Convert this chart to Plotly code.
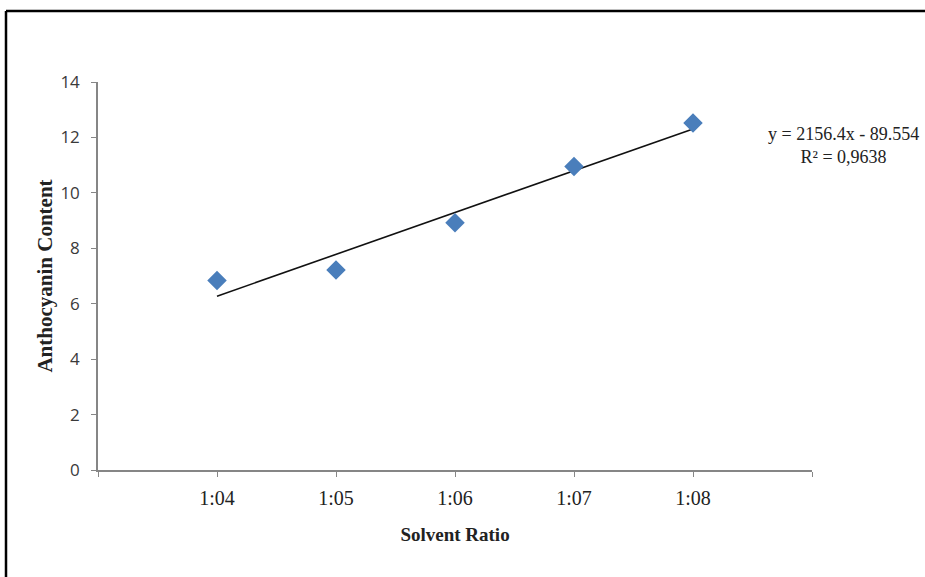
import numpy as np
import plotly.graph_objects as go

categories = ["1:04", "1:05", "1:06", "1:07", "1:08"]
anthocyanin = [6.84, 7.22, 8.92, 10.95, 12.52]
equation_text = "y = 2156.4x - 89.554"
r2_text = "R² = 0,9638"

xpos = np.arange(len(categories))
slope, intercept = np.polyfit(xpos, anthocyanin, 1)
trend_x = [xpos[0], xpos[-1]]
trend_y = [slope * v + intercept for v in trend_x]

W, H = 925, 577
L, R, T, B = 98, 812, 82, 470

fig = go.Figure()
fig.add_trace(go.Scatter(x=trend_x, y=trend_y, mode="lines",
                         line=dict(color="#111", width=1.6), showlegend=False, hoverinfo="skip"))
fig.add_trace(go.Scatter(x=xpos, y=anthocyanin, mode="markers",
                         marker=dict(symbol="diamond", size=15, color="#4A7EBB"),
                         showlegend=False))

pw, ph = R - L, B - T
def px(xp): return (xp - L) / pw
def py(yp): return (B - yp) / ph

fig.update_layout(
    width=W, height=H,
    margin=dict(l=L, r=W - R, t=T, b=H - B),
    paper_bgcolor="white", plot_bgcolor="white",
    xaxis=dict(range=[-1, 5], tickmode="array",
               tickvals=[-1, 0, 1, 2, 3, 4, 5], ticktext=[""] + categories + [""],
               showgrid=False, zeroline=False, showline=True, linecolor="#868686", linewidth=1.5,
               ticks="outside", ticklen=5, tickcolor="#868686", ticklabelstandoff=4,
               tickfont=dict(family="Liberation Serif", size=20, color="#222"),
               title=dict(text="<b>Solvent Ratio</b>", standoff=20,
                          font=dict(family="Liberation Serif", size=19, color="#222"))),
    yaxis=dict(range=[0, 14], tickmode="linear", tick0=0, dtick=2,
               showgrid=False, zeroline=False, showline=True, linecolor="#868686", linewidth=1.5,
               ticks="outside", ticklen=5, tickcolor="#868686", ticklabelstandoff=8,
               tickfont=dict(family="Open Sans", size=17, color="#3a3a3a"),
               title=dict(text="<b>Anthocyanin Content</b>", standoff=2,
                          font=dict(family="Liberation Serif", size=21, color="#222"))),
    shapes=[
        dict(type="line", xref="paper", yref="paper", x0=px(6), x1=px(930), y0=py(11), y1=py(11),
             line=dict(color="black", width=2.5)),
        dict(type="line", xref="paper", yref="paper", x0=px(6), x1=px(6), y0=py(11), y1=py(590),
             line=dict(color="black", width=2.5)),
    ],
    annotations=[
        dict(xref="paper", yref="paper", x=px(843), y=py(145), text=equation_text + "<br>" + r2_text,
             showarrow=False, align="center", xanchor="center", yanchor="middle",
             font=dict(family="Liberation Serif", size=18, color="#222")),
    ],
)

fig.write_html("out.html", config={"displayModeBar": False},
               post_script="document.body.style.margin='0';document.body.style.overflow='hidden';")
